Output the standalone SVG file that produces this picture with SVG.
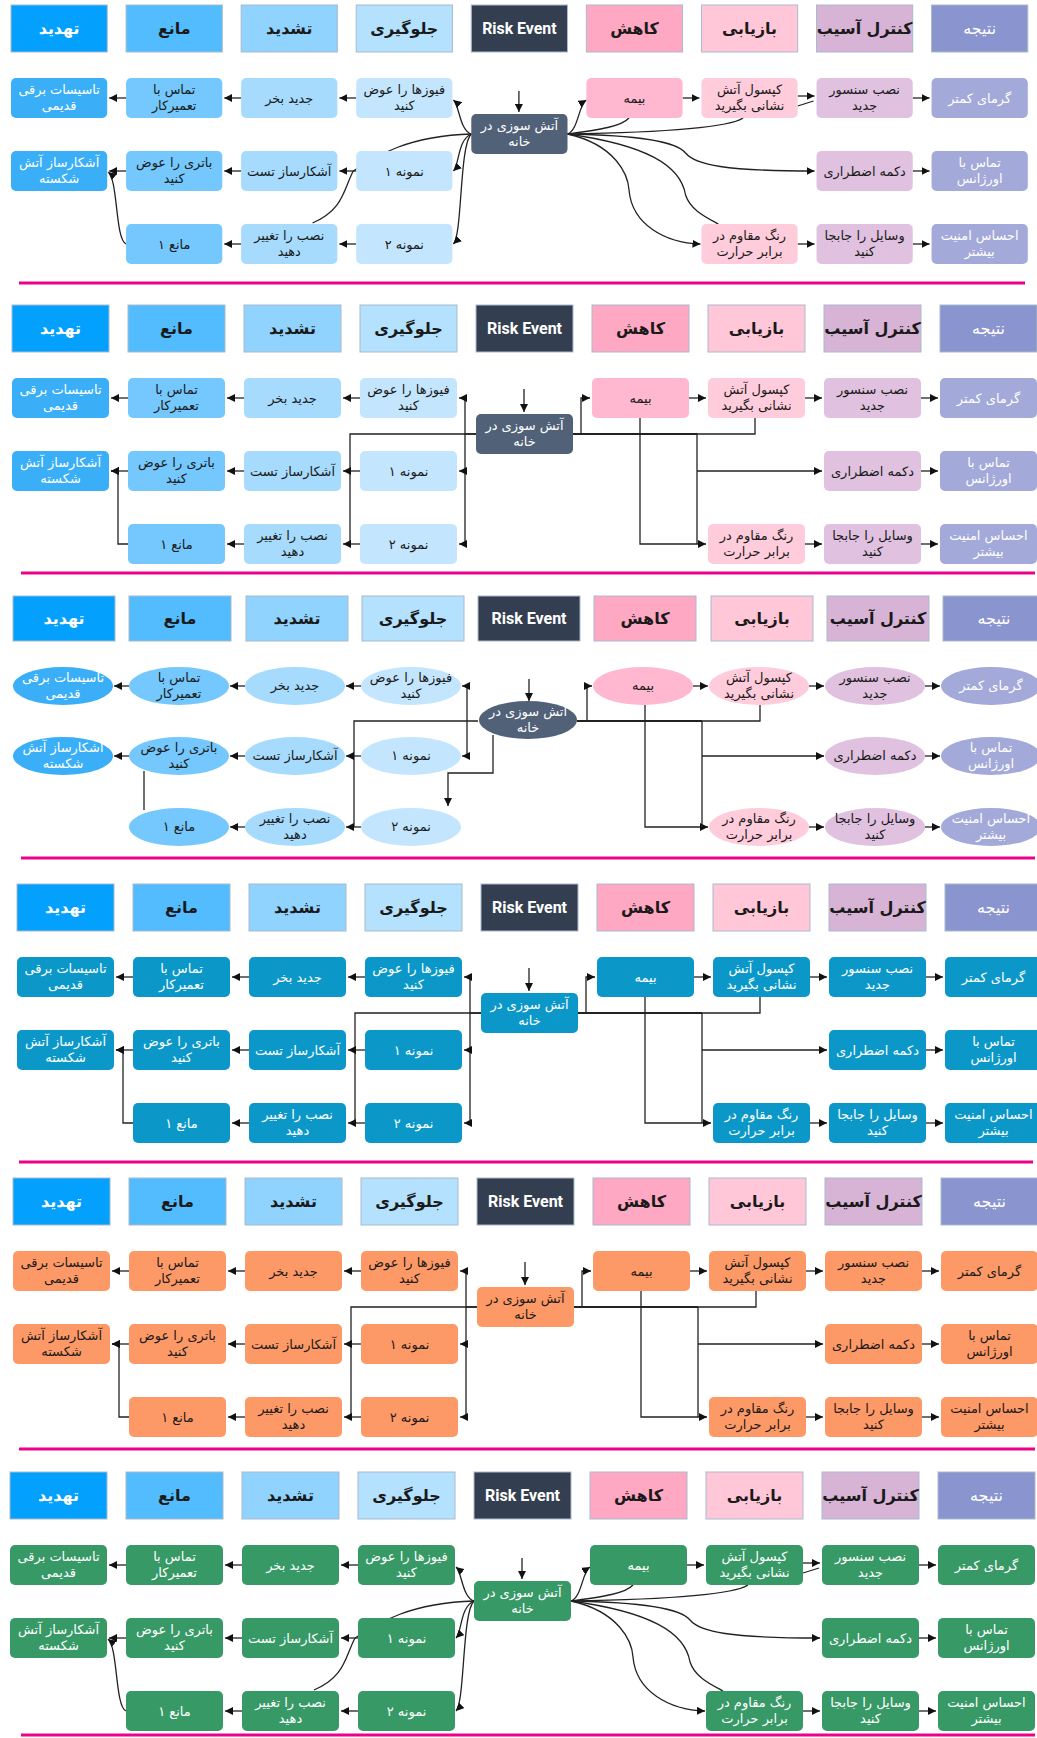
<svg xmlns="http://www.w3.org/2000/svg" width="1037" height="1738" viewBox="0 0 1037 1738">
<defs>
<marker id="ar" markerWidth="8" markerHeight="8" refX="8" refY="4" orient="auto" markerUnits="userSpaceOnUse"><path d="M0,0 L8,4 L0,8 z" fill="#111"/></marker>
<style>
text{font-family:"DejaVu Sans","Noto Sans",sans-serif;font-size:13px;text-anchor:middle;fill:#1a1a1a}
.h rect,.h ellipse{stroke:#A9BACB;stroke-width:1}
.h text{font-size:16px;font-weight:bold}
.h1 rect{fill:#03A0FE}.h2 rect{fill:#52BCFE}.h3 rect{fill:#8FD3FE}.h4 rect{fill:#B3E1FE}.h5 rect{fill:#333F50}.h6 rect{fill:#FFA8C4}.h7 rect{fill:#FFC7D8}.h8 rect{fill:#D7B3D6}.h9 rect{fill:#8A94CE}
.h1 text,.h5 text,.h9 text{fill:#fff}
.h5 text{font-family:Roboto,"Liberation Sans",sans-serif}
.h9 text{font-weight:normal}
.std .c1 .s{fill:#3AAFF7}.std .c2 .s{fill:#74C8FD}.std .c3 .s{fill:#A6DBFE}.std .c4 .s{fill:#C3E6FE}.std .cr .s{fill:#516178}.std .c6 .s{fill:#FFB8D0}.std .c7 .s{fill:#FFCCDC}.std .c8 .s{fill:#E0C2E0}.std .c9 .s{fill:#A3A9D9}
.std .c1 text,.std .cr text,.std .c9 text{fill:#fff}
.blu .nd .s{fill:#0B98C9}.org .nd .s{fill:#FD9966}.grn .nd .s{fill:#379966}
.blu .nd text,.grn .nd text{fill:#fff}
.cn path{fill:none;stroke:#222;stroke-width:1.3}
.cn .a{marker-end:url(#ar)}
.cn .t{stroke-width:2.2}
.sep{stroke:#EC008C;stroke-width:3}
</style>
</defs>
<g id="separators">
<line class="sep" x1="19" y1="283" x2="1025" y2="283"/>
<line class="sep" x1="21" y1="573" x2="1035" y2="573"/>
<line class="sep" x1="21" y1="858" x2="1035" y2="858"/>
<line class="sep" x1="19" y1="1162" x2="1033" y2="1162"/>
<line class="sep" x1="19" y1="1449" x2="1035" y2="1449"/>
<line class="sep" x1="21" y1="1735" x2="1035" y2="1735"/>
</g>

<!-- SECTION 1 -->
<g id="section1" class="std" transform="translate(11,5) scale(0.992,1)">
<g id="s1-connectors" class="cn">
<path class="a" d="M512,86 V107"/>
<path class="a" d="M464,129 C452,125 452,100 446,95"/>
<path class="a" d="M464,129 C450,135 452,160 446,166"/>
<path class="a" d="M464,129 C452,140 455,230 446,239"/>
<path d="M464,129 C400,131 370,150 345,166 C335,185 335,205 304,218"/>
<path class="a" d="M348,93 H331"/><path class="a" d="M232,93 H215"/><path class="a" d="M116,93 H99"/>
<path class="a" d="M348,166 H331"/><path class="a" d="M232,166 H215"/><path class="a" d="M116,166 H99"/>
<path class="a" d="M348,239 H331"/><path class="a" d="M232,239 H215"/>
<path class="a" d="M116,239 C105,235 108,175 98,167"/>
<path class="a" d="M561,129 C572,125 572,100 580,95"/>
<path d="M561,129 C590,125 615,122 623,113"/>
<path d="M561,129 C620,128 720,125 738,113"/>
<path class="a" d="M561,129 C620,130 670,135 680,148 C690,160 720,166 810,166"/>
<path class="a" d="M561,129 C610,140 622,170 623,185 C626,220 660,238 695,239"/>
<path d="M561,129 C640,140 675,160 680,190 C685,205 700,212 713,219"/>
<path class="a" d="M677,93 H694"/><path class="a" d="M793,91 H810"/><path d="M793,101 L809,96"/><path class="a" d="M909,93 H926"/>
<path class="a" d="M909,166 H926"/><path class="a" d="M793,239 H810"/><path class="a" d="M909,239 H926"/>
</g>
<g id="s1-h1" class="h h1"><rect x="0" y="0" width="97" height="47"/><text x="48.5" y="29">تهدید</text></g>
<g id="s1-h2" class="h h2"><rect x="116" y="0" width="97" height="47"/><text x="164.5" y="29">مانع</text></g>
<g id="s1-h3" class="h h3"><rect x="232" y="0" width="97" height="47"/><text x="280.5" y="29">تشدید</text></g>
<g id="s1-h4" class="h h4"><rect x="348" y="0" width="97" height="47"/><text x="396.5" y="29">جلوگیری</text></g>
<g id="s1-h5" class="h h5"><rect x="464" y="0" width="97" height="47"/><text x="512.5" y="29">Risk Event</text></g>
<g id="s1-h6" class="h h6"><rect x="580" y="0" width="97" height="47"/><text x="628.5" y="29">کاهش</text></g>
<g id="s1-h7" class="h h7"><rect x="696" y="0" width="97" height="47"/><text x="744.5" y="29">بازیابی</text></g>
<g id="s1-h8" class="h h8"><rect x="812" y="0" width="97" height="47"/><text x="860.5" y="29">کنترل آسیب</text></g>
<g id="s1-h9" class="h h9"><rect x="928" y="0" width="97" height="47"/><text x="976.5" y="29">نتیجه</text></g>
<g id="s1-a1" class="nd c1"><rect class="s" x="0" y="73" width="97" height="40" rx="5"/><text x="48.5" y="89">تاسیسات برقی<tspan x="48.5" dy="16">قدیمی</tspan></text></g>
<g id="s1-a2" class="nd c2"><rect class="s" x="116" y="73" width="97" height="40" rx="5"/><text x="164.5" y="89">تماس با<tspan x="164.5" dy="16">تعمیرکار</tspan></text></g>
<g id="s1-a3" class="nd c3"><rect class="s" x="232" y="73" width="97" height="40" rx="5"/><text x="280.5" y="98">جدید بخر</text></g>
<g id="s1-a4" class="nd c4"><rect class="s" x="348" y="73" width="97" height="40" rx="5"/><text x="396.5" y="89">فیوزها را عوض<tspan x="396.5" dy="16">کنید</tspan></text></g>
<g id="s1-b1" class="nd c1"><rect class="s" x="0" y="146" width="97" height="40" rx="5"/><text x="48.5" y="162">آشکارساز آتش<tspan x="48.5" dy="16">شکسته</tspan></text></g>
<g id="s1-b2" class="nd c2"><rect class="s" x="116" y="146" width="97" height="40" rx="5"/><text x="164.5" y="162">باتری را عوض<tspan x="164.5" dy="16">کنید</tspan></text></g>
<g id="s1-b3" class="nd c3"><rect class="s" x="232" y="146" width="97" height="40" rx="5"/><text x="280.5" y="171">آشکارساز تست</text></g>
<g id="s1-b4" class="nd c4"><rect class="s" x="348" y="146" width="97" height="40" rx="5"/><text x="396.5" y="171">نمونه ۱</text></g>
<g id="s1-c2" class="nd c2"><rect class="s" x="116" y="219" width="97" height="40" rx="5"/><text x="164.5" y="244">مانع ۱</text></g>
<g id="s1-c3" class="nd c3"><rect class="s" x="232" y="219" width="97" height="40" rx="5"/><text x="280.5" y="235">نصب را تغییر<tspan x="280.5" dy="16">دهید</tspan></text></g>
<g id="s1-c4" class="nd c4"><rect class="s" x="348" y="219" width="97" height="40" rx="5"/><text x="396.5" y="244">نمونه ۲</text></g>
<g id="s1-r" class="nd cr"><rect class="s" x="464" y="109" width="97" height="40" rx="5"/><text x="512.5" y="125">آتش سوزی در<tspan x="512.5" dy="16">خانه</tspan></text></g>
<g id="s1-a6" class="nd c6"><rect class="s" x="580" y="73" width="97" height="40" rx="5"/><text x="628.5" y="98">بیمه</text></g>
<g id="s1-a7" class="nd c7"><rect class="s" x="696" y="73" width="97" height="40" rx="5"/><text x="744.5" y="89">کپسول آتش<tspan x="744.5" dy="16">نشانی بگیرید</tspan></text></g>
<g id="s1-a8" class="nd c8"><rect class="s" x="812" y="73" width="97" height="40" rx="5"/><text x="860.5" y="89">نصب سنسور<tspan x="860.5" dy="16">جدید</tspan></text></g>
<g id="s1-a9" class="nd c9"><rect class="s" x="928" y="73" width="97" height="40" rx="5"/><text x="976.5" y="98">گرمای کمتر</text></g>
<g id="s1-b8" class="nd c8"><rect class="s" x="812" y="146" width="97" height="40" rx="5"/><text x="860.5" y="171">دکمه اضطراری</text></g>
<g id="s1-b9" class="nd c9"><rect class="s" x="928" y="146" width="97" height="40" rx="5"/><text x="976.5" y="162">تماس با<tspan x="976.5" dy="16">اورژانس</tspan></text></g>
<g id="s1-c7" class="nd c7"><rect class="s" x="696" y="219" width="97" height="40" rx="5"/><text x="744.5" y="235">رنگ مقاوم در<tspan x="744.5" dy="16">برابر حرارت</tspan></text></g>
<g id="s1-c8" class="nd c8"><rect class="s" x="812" y="219" width="97" height="40" rx="5"/><text x="860.5" y="235">وسایل را جابجا<tspan x="860.5" dy="16">کنید</tspan></text></g>
<g id="s1-c9" class="nd c9"><rect class="s" x="928" y="219" width="97" height="40" rx="5"/><text x="976.5" y="235">احساس امنیت<tspan x="976.5" dy="16">بیشتر</tspan></text></g>
</g>

<!-- SECTION 2 -->
<g id="section2" class="std" transform="translate(12,305)">
<g id="s2-connectors" class="cn">
<path class="a" d="M512,84 V107"/>
<path d="M464,129 H453 M453,93 V239"/>
<path class="a" d="M453,93 H447"/><path class="a" d="M453,166 H447"/><path class="a" d="M453,239 H447"/>
<path d="M464,129 H338 V239"/>
<path class="a" d="M348,93 H331"/><path class="a" d="M232,93 H215"/><path class="a" d="M116,93 H99"/>
<path class="a" d="M348,166 H331"/><path class="a" d="M232,166 H215"/><path class="a" d="M116,166 H99"/>
<path class="a" d="M348,239 H331"/><path class="a" d="M232,239 H215"/>
<path class="a" d="M116,239 H106 V166 H99"/>
<path class="t" d="M561,129 H685"/><path d="M685,129 H743 V113"/>
<path class="a" d="M569,129 V93 H578"/>
<path class="a" d="M628,113 V239 H694"/>
<path d="M685,129 V239"/><path class="a" d="M685,166 H810"/>
<path class="a" d="M677,93 H694"/><path class="a" d="M793,93 H810"/><path class="a" d="M909,93 H926"/>
<path class="a" d="M909,166 H926"/><path class="a" d="M793,239 H810"/><path class="a" d="M909,239 H926"/>
</g>
<g id="s2-h1" class="h h1"><rect x="0" y="0" width="97" height="47"/><text x="48.5" y="29">تهدید</text></g>
<g id="s2-h2" class="h h2"><rect x="116" y="0" width="97" height="47"/><text x="164.5" y="29">مانع</text></g>
<g id="s2-h3" class="h h3"><rect x="232" y="0" width="97" height="47"/><text x="280.5" y="29">تشدید</text></g>
<g id="s2-h4" class="h h4"><rect x="348" y="0" width="97" height="47"/><text x="396.5" y="29">جلوگیری</text></g>
<g id="s2-h5" class="h h5"><rect x="464" y="0" width="97" height="47"/><text x="512.5" y="29">Risk Event</text></g>
<g id="s2-h6" class="h h6"><rect x="580" y="0" width="97" height="47"/><text x="628.5" y="29">کاهش</text></g>
<g id="s2-h7" class="h h7"><rect x="696" y="0" width="97" height="47"/><text x="744.5" y="29">بازیابی</text></g>
<g id="s2-h8" class="h h8"><rect x="812" y="0" width="97" height="47"/><text x="860.5" y="29">کنترل آسیب</text></g>
<g id="s2-h9" class="h h9"><rect x="928" y="0" width="97" height="47"/><text x="976.5" y="29">نتیجه</text></g>
<g id="s2-a1" class="nd c1"><rect class="s" x="0" y="73" width="97" height="40" rx="5"/><text x="48.5" y="89">تاسیسات برقی<tspan x="48.5" dy="16">قدیمی</tspan></text></g>
<g id="s2-a2" class="nd c2"><rect class="s" x="116" y="73" width="97" height="40" rx="5"/><text x="164.5" y="89">تماس با<tspan x="164.5" dy="16">تعمیرکار</tspan></text></g>
<g id="s2-a3" class="nd c3"><rect class="s" x="232" y="73" width="97" height="40" rx="5"/><text x="280.5" y="98">جدید بخر</text></g>
<g id="s2-a4" class="nd c4"><rect class="s" x="348" y="73" width="97" height="40" rx="5"/><text x="396.5" y="89">فیوزها را عوض<tspan x="396.5" dy="16">کنید</tspan></text></g>
<g id="s2-b1" class="nd c1"><rect class="s" x="0" y="146" width="97" height="40" rx="5"/><text x="48.5" y="162">آشکارساز آتش<tspan x="48.5" dy="16">شکسته</tspan></text></g>
<g id="s2-b2" class="nd c2"><rect class="s" x="116" y="146" width="97" height="40" rx="5"/><text x="164.5" y="162">باتری را عوض<tspan x="164.5" dy="16">کنید</tspan></text></g>
<g id="s2-b3" class="nd c3"><rect class="s" x="232" y="146" width="97" height="40" rx="5"/><text x="280.5" y="171">آشکارساز تست</text></g>
<g id="s2-b4" class="nd c4"><rect class="s" x="348" y="146" width="97" height="40" rx="5"/><text x="396.5" y="171">نمونه ۱</text></g>
<g id="s2-c2" class="nd c2"><rect class="s" x="116" y="219" width="97" height="40" rx="5"/><text x="164.5" y="244">مانع ۱</text></g>
<g id="s2-c3" class="nd c3"><rect class="s" x="232" y="219" width="97" height="40" rx="5"/><text x="280.5" y="235">نصب را تغییر<tspan x="280.5" dy="16">دهید</tspan></text></g>
<g id="s2-c4" class="nd c4"><rect class="s" x="348" y="219" width="97" height="40" rx="5"/><text x="396.5" y="244">نمونه ۲</text></g>
<g id="s2-r" class="nd cr"><rect class="s" x="464" y="109" width="97" height="40" rx="5"/><text x="512.5" y="125">آتش سوزی در<tspan x="512.5" dy="16">خانه</tspan></text></g>
<g id="s2-a6" class="nd c6"><rect class="s" x="580" y="73" width="97" height="40" rx="5"/><text x="628.5" y="98">بیمه</text></g>
<g id="s2-a7" class="nd c7"><rect class="s" x="696" y="73" width="97" height="40" rx="5"/><text x="744.5" y="89">کپسول آتش<tspan x="744.5" dy="16">نشانی بگیرید</tspan></text></g>
<g id="s2-a8" class="nd c8"><rect class="s" x="812" y="73" width="97" height="40" rx="5"/><text x="860.5" y="89">نصب سنسور<tspan x="860.5" dy="16">جدید</tspan></text></g>
<g id="s2-a9" class="nd c9"><rect class="s" x="928" y="73" width="97" height="40" rx="5"/><text x="976.5" y="98">گرمای کمتر</text></g>
<g id="s2-b8" class="nd c8"><rect class="s" x="812" y="146" width="97" height="40" rx="5"/><text x="860.5" y="171">دکمه اضطراری</text></g>
<g id="s2-b9" class="nd c9"><rect class="s" x="928" y="146" width="97" height="40" rx="5"/><text x="976.5" y="162">تماس با<tspan x="976.5" dy="16">اورژانس</tspan></text></g>
<g id="s2-c7" class="nd c7"><rect class="s" x="696" y="219" width="97" height="40" rx="5"/><text x="744.5" y="235">رنگ مقاوم در<tspan x="744.5" dy="16">برابر حرارت</tspan></text></g>
<g id="s2-c8" class="nd c8"><rect class="s" x="812" y="219" width="97" height="40" rx="5"/><text x="860.5" y="235">وسایل را جابجا<tspan x="860.5" dy="16">کنید</tspan></text></g>
<g id="s2-c9" class="nd c9"><rect class="s" x="928" y="219" width="97" height="40" rx="5"/><text x="976.5" y="235">احساس امنیت<tspan x="976.5" dy="16">بیشتر</tspan></text></g>
</g>

<!-- SECTION 3 (ellipses) -->
<g id="section3" class="std" transform="translate(13,596)">
<g id="s3-connectors" class="cn">
<path class="a" d="M516,83 V105"/>
<path d="M454,90 V160"/>
<path class="a" d="M454,90 H449"/><path class="a" d="M454,160 H449"/>
<path d="M465,125 H341 V231"/>
<path class="a" d="M480,139 V177 H435 V210"/>
<path class="a" d="M348,90 H333"/><path class="a" d="M232,90 H217"/><path class="a" d="M116,90 H101"/>
<path class="a" d="M348,160 H333"/><path class="a" d="M232,160 H217"/><path class="a" d="M116,160 H101"/>
<path class="a" d="M348,231 H333"/><path class="a" d="M232,231 H217"/>
<path d="M131,175 V214"/>
<path class="t" d="M564,125 H689"/><path d="M689,125 H747 V109"/>
<path class="a" d="M574,125 V90 H579"/>
<path class="a" d="M632,109 V231 H695"/>
<path d="M689,125 V231"/><path class="a" d="M689,160 H811"/>
<path class="a" d="M680,90 H695"/><path class="a" d="M796,90 H811"/><path class="a" d="M912,90 H927"/>
<path class="a" d="M912,160 H927"/><path class="a" d="M796,231 H811"/><path class="a" d="M912,231 H927"/>
</g>
<g id="s3-h1" class="h h1"><rect x="0" y="0" width="102" height="45"/><text x="51" y="28">تهدید</text></g>
<g id="s3-h2" class="h h2"><rect x="116" y="0" width="102" height="45"/><text x="167" y="28">مانع</text></g>
<g id="s3-h3" class="h h3"><rect x="233" y="0" width="102" height="45"/><text x="284" y="28">تشدید</text></g>
<g id="s3-h4" class="h h4"><rect x="349" y="0" width="102" height="45"/><text x="400" y="28">جلوگیری</text></g>
<g id="s3-h5" class="h h5"><rect x="465" y="0" width="102" height="45"/><text x="516" y="28">Risk Event</text></g>
<g id="s3-h6" class="h h6"><rect x="581" y="0" width="102" height="45"/><text x="632" y="28">کاهش</text></g>
<g id="s3-h7" class="h h7"><rect x="698" y="0" width="102" height="45"/><text x="749" y="28">بازیابی</text></g>
<g id="s3-h8" class="h h8"><rect x="814" y="0" width="102" height="45"/><text x="865" y="28">کنترل آسیب</text></g>
<g id="s3-h9" class="h h9"><rect x="930" y="0" width="102" height="45"/><text x="981" y="28">نتیجه</text></g>
<g id="s3-a1" class="nd c1"><ellipse class="s" cx="50" cy="90" rx="50" ry="19"/><text x="50" y="86">تاسیسات برقی<tspan x="50" dy="16">قدیمی</tspan></text></g>
<g id="s3-a2" class="nd c2"><ellipse class="s" cx="166" cy="90" rx="50" ry="19"/><text x="166" y="86">تماس با<tspan x="166" dy="16">تعمیرکار</tspan></text></g>
<g id="s3-a3" class="nd c3"><ellipse class="s" cx="282" cy="90" rx="50" ry="19"/><text x="282" y="94">جدید بخر</text></g>
<g id="s3-a4" class="nd c4"><ellipse class="s" cx="398" cy="90" rx="50" ry="19"/><text x="398" y="86">فیوزها را عوض<tspan x="398" dy="16">کنید</tspan></text></g>
<g id="s3-b1" class="nd c1"><ellipse class="s" cx="50" cy="160" rx="50" ry="19"/><text x="50" y="156">آشکارساز آتش<tspan x="50" dy="16">شکسته</tspan></text></g>
<g id="s3-b2" class="nd c2"><ellipse class="s" cx="166" cy="160" rx="50" ry="19"/><text x="166" y="156">باتری را عوض<tspan x="166" dy="16">کنید</tspan></text></g>
<g id="s3-b3" class="nd c3"><ellipse class="s" cx="282" cy="160" rx="50" ry="19"/><text x="282" y="164">آشکارساز تست</text></g>
<g id="s3-b4" class="nd c4"><ellipse class="s" cx="398" cy="160" rx="50" ry="19"/><text x="398" y="164">نمونه ۱</text></g>
<g id="s3-c2" class="nd c2"><ellipse class="s" cx="166" cy="231" rx="50" ry="19"/><text x="166" y="235">مانع ۱</text></g>
<g id="s3-c3" class="nd c3"><ellipse class="s" cx="282" cy="231" rx="50" ry="19"/><text x="282" y="227">نصب را تغییر<tspan x="282" dy="16">دهید</tspan></text></g>
<g id="s3-c4" class="nd c4"><ellipse class="s" cx="398" cy="231" rx="50" ry="19"/><text x="398" y="235">نمونه ۲</text></g>
<g id="s3-r" class="nd cr"><ellipse class="s" cx="515" cy="124" rx="49" ry="19"/><text x="515" y="120">آتش سوزی در<tspan x="515" dy="16">خانه</tspan></text></g>
<g id="s3-a6" class="nd c6"><ellipse class="s" cx="630" cy="90" rx="50" ry="19"/><text x="630" y="94">بیمه</text></g>
<g id="s3-a7" class="nd c7"><ellipse class="s" cx="746" cy="90" rx="50" ry="19"/><text x="746" y="86">کپسول آتش<tspan x="746" dy="16">نشانی بگیرید</tspan></text></g>
<g id="s3-a8" class="nd c8"><ellipse class="s" cx="862" cy="90" rx="50" ry="19"/><text x="862" y="86">نصب سنسور<tspan x="862" dy="16">جدید</tspan></text></g>
<g id="s3-a9" class="nd c9"><ellipse class="s" cx="978" cy="90" rx="50" ry="19"/><text x="978" y="94">گرمای کمتر</text></g>
<g id="s3-b8" class="nd c8"><ellipse class="s" cx="862" cy="160" rx="50" ry="19"/><text x="862" y="164">دکمه اضطراری</text></g>
<g id="s3-b9" class="nd c9"><ellipse class="s" cx="978" cy="160" rx="50" ry="19"/><text x="978" y="156">تماس با<tspan x="978" dy="16">اورژانس</tspan></text></g>
<g id="s3-c7" class="nd c7"><ellipse class="s" cx="746" cy="231" rx="50" ry="19"/><text x="746" y="227">رنگ مقاوم در<tspan x="746" dy="16">برابر حرارت</tspan></text></g>
<g id="s3-c8" class="nd c8"><ellipse class="s" cx="862" cy="231" rx="50" ry="19"/><text x="862" y="227">وسایل را جابجا<tspan x="862" dy="16">کنید</tspan></text></g>
<g id="s3-c9" class="nd c9"><ellipse class="s" cx="978" cy="231" rx="50" ry="19"/><text x="978" y="227">احساس امنیت<tspan x="978" dy="16">بیشتر</tspan></text></g>
</g>

<!-- SECTION 4 -->
<g id="section4" class="blu" transform="translate(17,884)">
<g id="s4-connectors" class="cn">
<path class="a" d="M512,84 V107"/>
<path d="M464,129 H453 M453,93 V239"/>
<path class="a" d="M453,93 H447"/><path class="a" d="M453,166 H447"/><path class="a" d="M453,239 H447"/>
<path d="M464,129 H338 V239"/>
<path class="a" d="M348,93 H331"/><path class="a" d="M232,93 H215"/><path class="a" d="M116,93 H99"/>
<path class="a" d="M348,166 H331"/><path class="a" d="M232,166 H215"/><path class="a" d="M116,166 H99"/>
<path class="a" d="M348,239 H331"/><path class="a" d="M232,239 H215"/>
<path class="a" d="M116,239 H106 V166 H99"/>
<path class="t" d="M561,129 H685"/><path d="M685,129 H743 V113"/>
<path class="a" d="M569,129 V93 H578"/>
<path class="a" d="M628,113 V239 H694"/>
<path d="M685,129 V239"/><path class="a" d="M685,166 H810"/>
<path class="a" d="M677,93 H694"/><path class="a" d="M793,93 H810"/><path class="a" d="M909,93 H926"/>
<path class="a" d="M909,166 H926"/><path class="a" d="M793,239 H810"/><path class="a" d="M909,239 H926"/>
</g>
<g id="s4-h1" class="h h1"><rect x="0" y="0" width="97" height="47"/><text x="48.5" y="29">تهدید</text></g>
<g id="s4-h2" class="h h2"><rect x="116" y="0" width="97" height="47"/><text x="164.5" y="29">مانع</text></g>
<g id="s4-h3" class="h h3"><rect x="232" y="0" width="97" height="47"/><text x="280.5" y="29">تشدید</text></g>
<g id="s4-h4" class="h h4"><rect x="348" y="0" width="97" height="47"/><text x="396.5" y="29">جلوگیری</text></g>
<g id="s4-h5" class="h h5"><rect x="464" y="0" width="97" height="47"/><text x="512.5" y="29">Risk Event</text></g>
<g id="s4-h6" class="h h6"><rect x="580" y="0" width="97" height="47"/><text x="628.5" y="29">کاهش</text></g>
<g id="s4-h7" class="h h7"><rect x="696" y="0" width="97" height="47"/><text x="744.5" y="29">بازیابی</text></g>
<g id="s4-h8" class="h h8"><rect x="812" y="0" width="97" height="47"/><text x="860.5" y="29">کنترل آسیب</text></g>
<g id="s4-h9" class="h h9"><rect x="928" y="0" width="97" height="47"/><text x="976.5" y="29">نتیجه</text></g>
<g id="s4-a1" class="nd"><rect class="s" x="0" y="73" width="97" height="40" rx="5"/><text x="48.5" y="89">تاسیسات برقی<tspan x="48.5" dy="16">قدیمی</tspan></text></g>
<g id="s4-a2" class="nd"><rect class="s" x="116" y="73" width="97" height="40" rx="5"/><text x="164.5" y="89">تماس با<tspan x="164.5" dy="16">تعمیرکار</tspan></text></g>
<g id="s4-a3" class="nd"><rect class="s" x="232" y="73" width="97" height="40" rx="5"/><text x="280.5" y="98">جدید بخر</text></g>
<g id="s4-a4" class="nd"><rect class="s" x="348" y="73" width="97" height="40" rx="5"/><text x="396.5" y="89">فیوزها را عوض<tspan x="396.5" dy="16">کنید</tspan></text></g>
<g id="s4-b1" class="nd"><rect class="s" x="0" y="146" width="97" height="40" rx="5"/><text x="48.5" y="162">آشکارساز آتش<tspan x="48.5" dy="16">شکسته</tspan></text></g>
<g id="s4-b2" class="nd"><rect class="s" x="116" y="146" width="97" height="40" rx="5"/><text x="164.5" y="162">باتری را عوض<tspan x="164.5" dy="16">کنید</tspan></text></g>
<g id="s4-b3" class="nd"><rect class="s" x="232" y="146" width="97" height="40" rx="5"/><text x="280.5" y="171">آشکارساز تست</text></g>
<g id="s4-b4" class="nd"><rect class="s" x="348" y="146" width="97" height="40" rx="5"/><text x="396.5" y="171">نمونه ۱</text></g>
<g id="s4-c2" class="nd"><rect class="s" x="116" y="219" width="97" height="40" rx="5"/><text x="164.5" y="244">مانع ۱</text></g>
<g id="s4-c3" class="nd"><rect class="s" x="232" y="219" width="97" height="40" rx="5"/><text x="280.5" y="235">نصب را تغییر<tspan x="280.5" dy="16">دهید</tspan></text></g>
<g id="s4-c4" class="nd"><rect class="s" x="348" y="219" width="97" height="40" rx="5"/><text x="396.5" y="244">نمونه ۲</text></g>
<g id="s4-r" class="nd"><rect class="s" x="464" y="109" width="97" height="40" rx="5"/><text x="512.5" y="125">آتش سوزی در<tspan x="512.5" dy="16">خانه</tspan></text></g>
<g id="s4-a6" class="nd"><rect class="s" x="580" y="73" width="97" height="40" rx="5"/><text x="628.5" y="98">بیمه</text></g>
<g id="s4-a7" class="nd"><rect class="s" x="696" y="73" width="97" height="40" rx="5"/><text x="744.5" y="89">کپسول آتش<tspan x="744.5" dy="16">نشانی بگیرید</tspan></text></g>
<g id="s4-a8" class="nd"><rect class="s" x="812" y="73" width="97" height="40" rx="5"/><text x="860.5" y="89">نصب سنسور<tspan x="860.5" dy="16">جدید</tspan></text></g>
<g id="s4-a9" class="nd"><rect class="s" x="928" y="73" width="97" height="40" rx="5"/><text x="976.5" y="98">گرمای کمتر</text></g>
<g id="s4-b8" class="nd"><rect class="s" x="812" y="146" width="97" height="40" rx="5"/><text x="860.5" y="171">دکمه اضطراری</text></g>
<g id="s4-b9" class="nd"><rect class="s" x="928" y="146" width="97" height="40" rx="5"/><text x="976.5" y="162">تماس با<tspan x="976.5" dy="16">اورژانس</tspan></text></g>
<g id="s4-c7" class="nd"><rect class="s" x="696" y="219" width="97" height="40" rx="5"/><text x="744.5" y="235">رنگ مقاوم در<tspan x="744.5" dy="16">برابر حرارت</tspan></text></g>
<g id="s4-c8" class="nd"><rect class="s" x="812" y="219" width="97" height="40" rx="5"/><text x="860.5" y="235">وسایل را جابجا<tspan x="860.5" dy="16">کنید</tspan></text></g>
<g id="s4-c9" class="nd"><rect class="s" x="928" y="219" width="97" height="40" rx="5"/><text x="976.5" y="235">احساس امنیت<tspan x="976.5" dy="16">بیشتر</tspan></text></g>
</g>

<!-- SECTION 5 -->
<g id="section5" class="org" transform="translate(13,1178)">
<g id="s5-connectors" class="cn">
<path class="a" d="M512,84 V107"/>
<path d="M464,129 H453 M453,93 V239"/>
<path class="a" d="M453,93 H447"/><path class="a" d="M453,166 H447"/><path class="a" d="M453,239 H447"/>
<path d="M464,129 H338 V239"/>
<path class="a" d="M348,93 H331"/><path class="a" d="M232,93 H215"/><path class="a" d="M116,93 H99"/>
<path class="a" d="M348,166 H331"/><path class="a" d="M232,166 H215"/><path class="a" d="M116,166 H99"/>
<path class="a" d="M348,239 H331"/><path class="a" d="M232,239 H215"/>
<path class="a" d="M116,239 H106 V166 H99"/>
<path class="t" d="M561,129 H685"/><path d="M685,129 H743 V113"/>
<path class="a" d="M569,129 V93 H578"/>
<path class="a" d="M628,113 V239 H694"/>
<path d="M685,129 V239"/><path class="a" d="M685,166 H810"/>
<path class="a" d="M677,93 H694"/><path class="a" d="M793,93 H810"/><path class="a" d="M909,93 H926"/>
<path class="a" d="M909,166 H926"/><path class="a" d="M793,239 H810"/><path class="a" d="M909,239 H926"/>
</g>
<g id="s5-h1" class="h h1"><rect x="0" y="0" width="97" height="47"/><text x="48.5" y="29">تهدید</text></g>
<g id="s5-h2" class="h h2"><rect x="116" y="0" width="97" height="47"/><text x="164.5" y="29">مانع</text></g>
<g id="s5-h3" class="h h3"><rect x="232" y="0" width="97" height="47"/><text x="280.5" y="29">تشدید</text></g>
<g id="s5-h4" class="h h4"><rect x="348" y="0" width="97" height="47"/><text x="396.5" y="29">جلوگیری</text></g>
<g id="s5-h5" class="h h5"><rect x="464" y="0" width="97" height="47"/><text x="512.5" y="29">Risk Event</text></g>
<g id="s5-h6" class="h h6"><rect x="580" y="0" width="97" height="47"/><text x="628.5" y="29">کاهش</text></g>
<g id="s5-h7" class="h h7"><rect x="696" y="0" width="97" height="47"/><text x="744.5" y="29">بازیابی</text></g>
<g id="s5-h8" class="h h8"><rect x="812" y="0" width="97" height="47"/><text x="860.5" y="29">کنترل آسیب</text></g>
<g id="s5-h9" class="h h9"><rect x="928" y="0" width="97" height="47"/><text x="976.5" y="29">نتیجه</text></g>
<g id="s5-a1" class="nd"><rect class="s" x="0" y="73" width="97" height="40" rx="5"/><text x="48.5" y="89">تاسیسات برقی<tspan x="48.5" dy="16">قدیمی</tspan></text></g>
<g id="s5-a2" class="nd"><rect class="s" x="116" y="73" width="97" height="40" rx="5"/><text x="164.5" y="89">تماس با<tspan x="164.5" dy="16">تعمیرکار</tspan></text></g>
<g id="s5-a3" class="nd"><rect class="s" x="232" y="73" width="97" height="40" rx="5"/><text x="280.5" y="98">جدید بخر</text></g>
<g id="s5-a4" class="nd"><rect class="s" x="348" y="73" width="97" height="40" rx="5"/><text x="396.5" y="89">فیوزها را عوض<tspan x="396.5" dy="16">کنید</tspan></text></g>
<g id="s5-b1" class="nd"><rect class="s" x="0" y="146" width="97" height="40" rx="5"/><text x="48.5" y="162">آشکارساز آتش<tspan x="48.5" dy="16">شکسته</tspan></text></g>
<g id="s5-b2" class="nd"><rect class="s" x="116" y="146" width="97" height="40" rx="5"/><text x="164.5" y="162">باتری را عوض<tspan x="164.5" dy="16">کنید</tspan></text></g>
<g id="s5-b3" class="nd"><rect class="s" x="232" y="146" width="97" height="40" rx="5"/><text x="280.5" y="171">آشکارساز تست</text></g>
<g id="s5-b4" class="nd"><rect class="s" x="348" y="146" width="97" height="40" rx="5"/><text x="396.5" y="171">نمونه ۱</text></g>
<g id="s5-c2" class="nd"><rect class="s" x="116" y="219" width="97" height="40" rx="5"/><text x="164.5" y="244">مانع ۱</text></g>
<g id="s5-c3" class="nd"><rect class="s" x="232" y="219" width="97" height="40" rx="5"/><text x="280.5" y="235">نصب را تغییر<tspan x="280.5" dy="16">دهید</tspan></text></g>
<g id="s5-c4" class="nd"><rect class="s" x="348" y="219" width="97" height="40" rx="5"/><text x="396.5" y="244">نمونه ۲</text></g>
<g id="s5-r" class="nd"><rect class="s" x="464" y="109" width="97" height="40" rx="5"/><text x="512.5" y="125">آتش سوزی در<tspan x="512.5" dy="16">خانه</tspan></text></g>
<g id="s5-a6" class="nd"><rect class="s" x="580" y="73" width="97" height="40" rx="5"/><text x="628.5" y="98">بیمه</text></g>
<g id="s5-a7" class="nd"><rect class="s" x="696" y="73" width="97" height="40" rx="5"/><text x="744.5" y="89">کپسول آتش<tspan x="744.5" dy="16">نشانی بگیرید</tspan></text></g>
<g id="s5-a8" class="nd"><rect class="s" x="812" y="73" width="97" height="40" rx="5"/><text x="860.5" y="89">نصب سنسور<tspan x="860.5" dy="16">جدید</tspan></text></g>
<g id="s5-a9" class="nd"><rect class="s" x="928" y="73" width="97" height="40" rx="5"/><text x="976.5" y="98">گرمای کمتر</text></g>
<g id="s5-b8" class="nd"><rect class="s" x="812" y="146" width="97" height="40" rx="5"/><text x="860.5" y="171">دکمه اضطراری</text></g>
<g id="s5-b9" class="nd"><rect class="s" x="928" y="146" width="97" height="40" rx="5"/><text x="976.5" y="162">تماس با<tspan x="976.5" dy="16">اورژانس</tspan></text></g>
<g id="s5-c7" class="nd"><rect class="s" x="696" y="219" width="97" height="40" rx="5"/><text x="744.5" y="235">رنگ مقاوم در<tspan x="744.5" dy="16">برابر حرارت</tspan></text></g>
<g id="s5-c8" class="nd"><rect class="s" x="812" y="219" width="97" height="40" rx="5"/><text x="860.5" y="235">وسایل را جابجا<tspan x="860.5" dy="16">کنید</tspan></text></g>
<g id="s5-c9" class="nd"><rect class="s" x="928" y="219" width="97" height="40" rx="5"/><text x="976.5" y="235">احساس امنیت<tspan x="976.5" dy="16">بیشتر</tspan></text></g>
</g>

<!-- SECTION 6 -->
<g id="section6" class="grn" transform="translate(10,1472)">
<g id="s6-connectors" class="cn">
<path class="a" d="M512,86 V107"/>
<path class="a" d="M464,129 C452,125 452,100 446,95"/>
<path class="a" d="M464,129 C450,135 452,160 446,166"/>
<path class="a" d="M464,129 C452,140 455,230 446,239"/>
<path d="M464,129 C400,131 370,150 345,166 C335,185 335,205 304,218"/>
<path class="a" d="M348,93 H331"/><path class="a" d="M232,93 H215"/><path class="a" d="M116,93 H99"/>
<path class="a" d="M348,166 H331"/><path class="a" d="M232,166 H215"/><path class="a" d="M116,166 H99"/>
<path class="a" d="M348,239 H331"/><path class="a" d="M232,239 H215"/>
<path class="a" d="M116,239 C105,235 108,175 98,167"/>
<path class="a" d="M561,129 C572,125 572,100 580,95"/>
<path d="M561,129 C590,125 615,122 623,113"/>
<path d="M561,129 C620,128 720,125 738,113"/>
<path class="a" d="M561,129 C620,130 670,135 680,148 C690,160 720,166 810,166"/>
<path class="a" d="M561,129 C610,140 622,170 623,185 C626,220 660,238 695,239"/>
<path d="M561,129 C640,140 675,160 680,190 C685,205 700,212 713,219"/>
<path class="a" d="M677,93 H694"/><path class="a" d="M793,91 H810"/><path d="M793,101 L809,96"/><path class="a" d="M909,93 H926"/>
<path class="a" d="M909,166 H926"/><path class="a" d="M793,239 H810"/><path class="a" d="M909,239 H926"/>
</g>
<g id="s6-h1" class="h h1"><rect x="0" y="0" width="97" height="47"/><text x="48.5" y="29">تهدید</text></g>
<g id="s6-h2" class="h h2"><rect x="116" y="0" width="97" height="47"/><text x="164.5" y="29">مانع</text></g>
<g id="s6-h3" class="h h3"><rect x="232" y="0" width="97" height="47"/><text x="280.5" y="29">تشدید</text></g>
<g id="s6-h4" class="h h4"><rect x="348" y="0" width="97" height="47"/><text x="396.5" y="29">جلوگیری</text></g>
<g id="s6-h5" class="h h5"><rect x="464" y="0" width="97" height="47"/><text x="512.5" y="29">Risk Event</text></g>
<g id="s6-h6" class="h h6"><rect x="580" y="0" width="97" height="47"/><text x="628.5" y="29">کاهش</text></g>
<g id="s6-h7" class="h h7"><rect x="696" y="0" width="97" height="47"/><text x="744.5" y="29">بازیابی</text></g>
<g id="s6-h8" class="h h8"><rect x="812" y="0" width="97" height="47"/><text x="860.5" y="29">کنترل آسیب</text></g>
<g id="s6-h9" class="h h9"><rect x="928" y="0" width="97" height="47"/><text x="976.5" y="29">نتیجه</text></g>
<g id="s6-a1" class="nd"><rect class="s" x="0" y="73" width="97" height="40" rx="5"/><text x="48.5" y="89">تاسیسات برقی<tspan x="48.5" dy="16">قدیمی</tspan></text></g>
<g id="s6-a2" class="nd"><rect class="s" x="116" y="73" width="97" height="40" rx="5"/><text x="164.5" y="89">تماس با<tspan x="164.5" dy="16">تعمیرکار</tspan></text></g>
<g id="s6-a3" class="nd"><rect class="s" x="232" y="73" width="97" height="40" rx="5"/><text x="280.5" y="98">جدید بخر</text></g>
<g id="s6-a4" class="nd"><rect class="s" x="348" y="73" width="97" height="40" rx="5"/><text x="396.5" y="89">فیوزها را عوض<tspan x="396.5" dy="16">کنید</tspan></text></g>
<g id="s6-b1" class="nd"><rect class="s" x="0" y="146" width="97" height="40" rx="5"/><text x="48.5" y="162">آشکارساز آتش<tspan x="48.5" dy="16">شکسته</tspan></text></g>
<g id="s6-b2" class="nd"><rect class="s" x="116" y="146" width="97" height="40" rx="5"/><text x="164.5" y="162">باتری را عوض<tspan x="164.5" dy="16">کنید</tspan></text></g>
<g id="s6-b3" class="nd"><rect class="s" x="232" y="146" width="97" height="40" rx="5"/><text x="280.5" y="171">آشکارساز تست</text></g>
<g id="s6-b4" class="nd"><rect class="s" x="348" y="146" width="97" height="40" rx="5"/><text x="396.5" y="171">نمونه ۱</text></g>
<g id="s6-c2" class="nd"><rect class="s" x="116" y="219" width="97" height="40" rx="5"/><text x="164.5" y="244">مانع ۱</text></g>
<g id="s6-c3" class="nd"><rect class="s" x="232" y="219" width="97" height="40" rx="5"/><text x="280.5" y="235">نصب را تغییر<tspan x="280.5" dy="16">دهید</tspan></text></g>
<g id="s6-c4" class="nd"><rect class="s" x="348" y="219" width="97" height="40" rx="5"/><text x="396.5" y="244">نمونه ۲</text></g>
<g id="s6-r" class="nd"><rect class="s" x="464" y="109" width="97" height="40" rx="5"/><text x="512.5" y="125">آتش سوزی در<tspan x="512.5" dy="16">خانه</tspan></text></g>
<g id="s6-a6" class="nd"><rect class="s" x="580" y="73" width="97" height="40" rx="5"/><text x="628.5" y="98">بیمه</text></g>
<g id="s6-a7" class="nd"><rect class="s" x="696" y="73" width="97" height="40" rx="5"/><text x="744.5" y="89">کپسول آتش<tspan x="744.5" dy="16">نشانی بگیرید</tspan></text></g>
<g id="s6-a8" class="nd"><rect class="s" x="812" y="73" width="97" height="40" rx="5"/><text x="860.5" y="89">نصب سنسور<tspan x="860.5" dy="16">جدید</tspan></text></g>
<g id="s6-a9" class="nd"><rect class="s" x="928" y="73" width="97" height="40" rx="5"/><text x="976.5" y="98">گرمای کمتر</text></g>
<g id="s6-b8" class="nd"><rect class="s" x="812" y="146" width="97" height="40" rx="5"/><text x="860.5" y="171">دکمه اضطراری</text></g>
<g id="s6-b9" class="nd"><rect class="s" x="928" y="146" width="97" height="40" rx="5"/><text x="976.5" y="162">تماس با<tspan x="976.5" dy="16">اورژانس</tspan></text></g>
<g id="s6-c7" class="nd"><rect class="s" x="696" y="219" width="97" height="40" rx="5"/><text x="744.5" y="235">رنگ مقاوم در<tspan x="744.5" dy="16">برابر حرارت</tspan></text></g>
<g id="s6-c8" class="nd"><rect class="s" x="812" y="219" width="97" height="40" rx="5"/><text x="860.5" y="235">وسایل را جابجا<tspan x="860.5" dy="16">کنید</tspan></text></g>
<g id="s6-c9" class="nd"><rect class="s" x="928" y="219" width="97" height="40" rx="5"/><text x="976.5" y="235">احساس امنیت<tspan x="976.5" dy="16">بیشتر</tspan></text></g>
</g>
</svg>
